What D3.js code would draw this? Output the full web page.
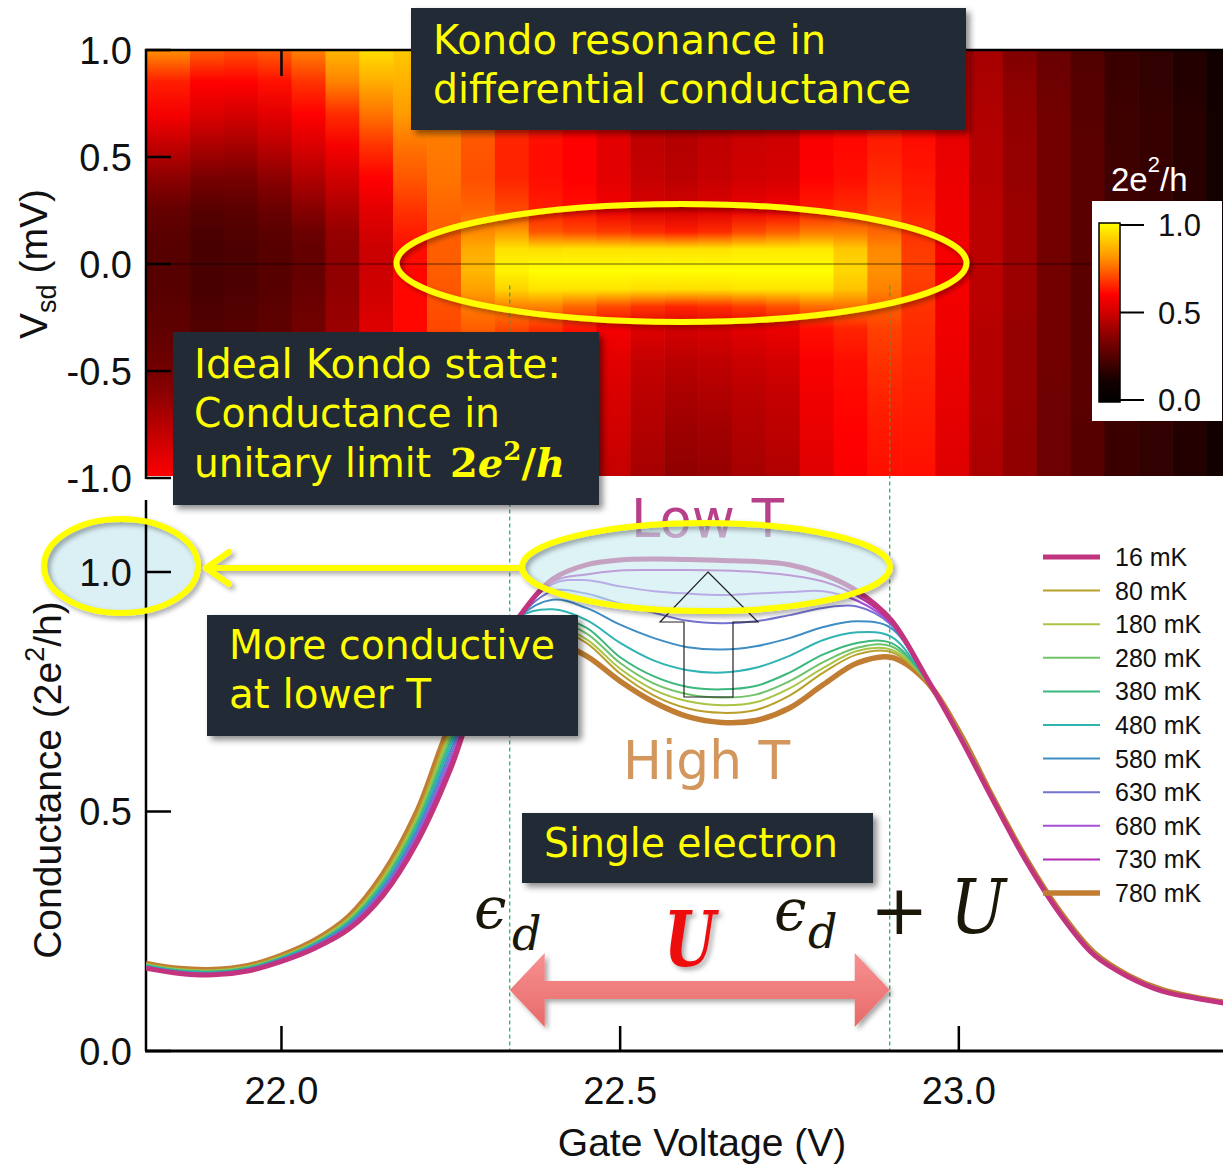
<!DOCTYPE html>
<html><head><meta charset="utf-8">
<script src="https://cdn.jsdelivr.net/npm/d3@7"></script>
<style>body{margin:0;background:#fff}svg{display:block}</style>
</head><body>
<svg id="c" width="1223" height="1165"></svg>
<script>
// ---------------- DATA ----------------
// Heatmap (top panel): dI/dV in units of 2e^2/h, columns vs gate voltage, rows vs Vsd
const heatGate = [21.84,21.89,21.94,21.99,22.04,22.09,22.14,22.19,22.24,22.29,22.34,22.39,22.44,22.49,22.54,22.59,
                  22.64,22.69,22.74,22.79,22.84,22.89,22.94,22.99,23.04,23.09,23.14,23.19,23.24,23.29,23.34,23.39];
const vsdLevels = [1.0,0.85,0.7,0.55,0.4,0.25,0.15,0.07,-0.03,-0.12,-0.2,-0.3,-0.45,-0.6,-0.8,-1.0];
const heatCols = [
 [0.80,0.64,0.58,0.47,0.37,0.29,0.27,0.26,0.26,0.26,0.27,0.28,0.31,0.37,0.48,0.60],
 [0.73,0.60,0.53,0.43,0.33,0.26,0.24,0.23,0.23,0.23,0.24,0.25,0.28,0.33,0.42,0.50],
 [0.71,0.60,0.51,0.42,0.33,0.27,0.25,0.24,0.24,0.24,0.25,0.26,0.29,0.34,0.43,0.50],
 [0.73,0.62,0.54,0.46,0.37,0.30,0.27,0.26,0.26,0.26,0.27,0.28,0.31,0.36,0.44,0.50],
 [0.78,0.67,0.60,0.52,0.44,0.36,0.31,0.29,0.29,0.30,0.31,0.32,0.35,0.38,0.44,0.50],
 [0.87,0.78,0.66,0.58,0.50,0.43,0.39,0.38,0.38,0.38,0.39,0.40,0.42,0.45,0.50,0.55],
 [0.94,0.85,0.76,0.67,0.60,0.54,0.51,0.49,0.49,0.50,0.51,0.53,0.55,0.57,0.59,0.60],
 [0.90,0.86,0.82,0.76,0.72,0.67,0.64,0.62,0.61,0.61,0.61,0.61,0.61,0.61,0.61,0.61],
 [0.85,0.82,0.79,0.77,0.76,0.74,0.73,0.73,0.73,0.72,0.71,0.70,0.69,0.68,0.66,0.64],
 [0.80,0.78,0.74,0.72,0.71,0.74,0.79,0.85,0.87,0.83,0.77,0.73,0.71,0.69,0.67,0.65],
 [0.70,0.68,0.66,0.65,0.65,0.70,0.82,0.95,0.98,0.92,0.78,0.70,0.67,0.65,0.63,0.62],
 [0.66,0.64,0.63,0.62,0.62,0.64,0.72,0.94,1.00,0.95,0.78,0.67,0.64,0.62,0.61,0.60],
 [0.62,0.61,0.60,0.60,0.60,0.62,0.70,0.95,1.00,0.95,0.74,0.63,0.60,0.58,0.57,0.56],
 [0.58,0.56,0.55,0.54,0.54,0.57,0.68,0.95,1.00,0.95,0.70,0.58,0.54,0.52,0.50,0.48],
 [0.52,0.50,0.48,0.47,0.48,0.52,0.66,0.95,1.00,0.94,0.67,0.53,0.48,0.46,0.44,0.42],
 [0.50,0.48,0.46,0.45,0.46,0.51,0.64,0.95,1.00,0.94,0.65,0.51,0.46,0.43,0.40,0.38],
 [0.50,0.48,0.47,0.47,0.48,0.53,0.66,0.95,1.00,0.94,0.66,0.52,0.47,0.44,0.41,0.39],
 [0.52,0.50,0.49,0.49,0.50,0.56,0.70,0.96,1.00,0.95,0.68,0.54,0.49,0.46,0.44,0.42],
 [0.54,0.52,0.51,0.50,0.51,0.58,0.73,0.96,1.00,0.95,0.71,0.56,0.51,0.48,0.46,0.44],
 [0.60,0.59,0.59,0.59,0.60,0.64,0.77,0.96,1.00,0.95,0.75,0.62,0.59,0.57,0.55,0.53],
 [0.62,0.61,0.61,0.61,0.62,0.66,0.77,0.90,0.93,0.89,0.76,0.65,0.62,0.61,0.60,0.59],
 [0.62,0.62,0.63,0.64,0.66,0.69,0.74,0.79,0.80,0.78,0.73,0.69,0.67,0.65,0.63,0.62],
 [0.58,0.59,0.60,0.62,0.63,0.65,0.67,0.68,0.69,0.68,0.67,0.66,0.65,0.64,0.63,0.62],
 [0.50,0.52,0.54,0.55,0.56,0.57,0.57,0.58,0.58,0.58,0.57,0.57,0.56,0.55,0.54,0.53],
 [0.42,0.43,0.44,0.45,0.45,0.46,0.46,0.46,0.46,0.46,0.46,0.45,0.45,0.45,0.44,0.43],
 [0.35,0.37,0.38,0.39,0.39,0.40,0.40,0.40,0.40,0.40,0.40,0.39,0.39,0.39,0.38,0.38],
 [0.30,0.31,0.32,0.32,0.32,0.32,0.32,0.32,0.32,0.32,0.32,0.32,0.32,0.31,0.31,0.31],
 [0.25,0.26,0.26,0.27,0.27,0.27,0.27,0.27,0.27,0.27,0.27,0.27,0.27,0.27,0.26,0.26],
 [0.20,0.20,0.21,0.21,0.21,0.21,0.21,0.21,0.21,0.21,0.21,0.21,0.21,0.21,0.20,0.20],
 [0.18,0.18,0.19,0.19,0.19,0.19,0.19,0.19,0.19,0.19,0.19,0.19,0.19,0.19,0.18,0.18],
 [0.15,0.15,0.16,0.16,0.16,0.16,0.16,0.16,0.16,0.16,0.16,0.16,0.16,0.16,0.15,0.15],
 [0.10,0.10,0.11,0.11,0.11,0.11,0.11,0.11,0.11,0.11,0.11,0.11,0.11,0.11,0.10,0.10]
];
const cmapStops  = [0, 0.12, 0.35, 0.5, 0.6, 0.8, 1.0];
const cmapColors = ['#000000','#150000','#800000','#d00000','#ff0000','#ff9000','#ffff00'];

// Conductance curves (bottom panel)
const gateGrid = [21.80,21.85,21.90,21.95,22.00,22.05,22.10,22.15,22.20,22.25,22.30,22.35,22.40,22.45,22.50,22.55,22.60,
                  22.65,22.70,22.75,22.80,22.85,22.90,22.95,23.00,23.05,23.10,23.15,23.20,23.25,23.30,23.35,23.40];
const g16  = [.173,.162,.159,.167,.187,.215,.255,.325,.435,.590,.790,.905,.985,1.015,1.025,1.027,1.026,1.024,1.022,1.015,.995,.960,.900,.785,.660,.525,.395,.285,.200,.155,.125,.110,.098];
const g80  = [.182,.171,.169,.177,.199,.230,.279,.366,.494,.676,.808,.880,.884,.852,.788,.742,.715,.706,.712,.742,.790,.828,.833,.776,.667,.530,.400,.290,.205,.158,.128,.112,.100];
const g180 = [.181,.170,.168,.176,.197,.229,.277,.361,.487,.667,.806,.890,.890,.860,.798,.754,.730,.722,.728,.757,.800,.835,.838,.777,.667,.529,.399,.289,.204,.158,.128,.112,.100];
const g280 = [.180,.169,.167,.175,.196,.227,.274,.356,.481,.658,.804,.895,.898,.872,.810,.767,.745,.738,.744,.772,.812,.842,.845,.778,.666,.529,.399,.289,.204,.157,.127,.111,.100];
const g380 = [.179,.168,.166,.174,.195,.225,.271,.351,.474,.648,.802,.900,.905,.884,.822,.782,.760,.755,.762,.790,.828,.852,.852,.779,.665,.528,.398,.288,.203,.157,.127,.111,.099];
const g480 = [.178,.167,.164,.172,.194,.224,.269,.347,.468,.639,.800,.905,.922,.900,.852,.815,.795,.790,.800,.825,.858,.874,.865,.779,.664,.528,.398,.288,.203,.157,.127,.111,.099];
const g580 = [.177,.166,.163,.171,.192,.222,.266,.342,.461,.629,.798,.905,.942,.925,.890,.862,.843,.838,.845,.862,.885,.897,.883,.780,.663,.527,.397,.287,.202,.156,.126,.111,.099];
const g630 = [.176,.165,.162,.170,.191,.220,.263,.338,.455,.619,.796,.905,.960,.955,.934,.915,.898,.893,.897,.910,.925,.928,.890,.781,.662,.527,.397,.287,.202,.156,.126,.110,.099];
const g680 = [.175,.164,.161,.169,.190,.218,.260,.334,.448,.609,.794,.905,.975,.983,.970,.960,.955,.952,.955,.958,.960,.940,.893,.782,.662,.526,.396,.286,.201,.156,.126,.110,.098];
const g730 = [.174,.163,.160,.168,.188,.217,.258,.329,.442,.600,.792,.905,.980,.995,1.003,1.004,1.004,1.003,1.000,.993,.980,.950,.895,.783,.661,.526,.396,.286,.201,.155,.125,.110,.098];
const g780 = [.183,.172,.170,.178,.200,.232,.282,.370,.500,.685,.810,.855,.855,.825,.772,.728,.698,.686,.690,.716,.765,.810,.822,.775,.668,.530,.400,.290,.205,.158,.128,.112,.100];

const seriesLabels = ['16 mK','80 mK','180 mK','280 mK','380 mK','480 mK','580 mK','630 mK','680 mK','730 mK','780 mK'];
const seriesValues = [g16,g80,g180,g280,g380,g480,g580,g630,g680,g730,g780];
const seriesColors = ['#c2347e','#b9a02a','#a9c444','#6fc46a','#3cb77e','#2fb3b3','#3f8dc4','#7373cf','#a54fd6','#b22cb0','#c17e33'];
const seriesWidths = [5,2,2,2,2,2,2,2,2,2,5.5];

const vsdTicks  = [1.0,0.5,0.0,-0.5,-1.0];
const condTicks = [0.0,0.5,1.0];
const gateTicks = [22.0,22.5,23.0];
const cbarTicks = [0.0,0.5,1.0];
const edgeGates = [22.337,22.898];   // eps_d and eps_d+U markers

// ---------------- SCALES ----------------
const xS   = d3.scaleLinear().domain([21.80,23.39]).range([146,1223]);
const yTop = d3.scaleLinear().domain([-1,1]).range([478,50]);
const yBot = d3.scaleLinear().domain([0,1]).range([1051,572]);
const col  = d3.scaleLinear().domain(cmapStops).range(cmapColors).clamp(true);
const f1 = v => v.toFixed(1);
const SANS = 'Liberation Sans, Arial, sans-serif';
const TAH = 'DejaVu Sans, Verdana, sans-serif';
const SERIF = 'DejaVu Serif, serif';

const svg = d3.select('#c');
const defs = svg.append('defs');
const flt = defs.append('filter').attr('id','sh').attr('x','-20%').attr('y','-30%').attr('width','150%').attr('height','170%');
flt.append('feDropShadow').attr('dx',4).attr('dy',4).attr('stdDeviation',3).attr('flood-color','#000').attr('flood-opacity',0.45);
const flt2 = defs.append('filter').attr('id','sh2').attr('x','-20%').attr('y','-30%').attr('width','150%').attr('height','170%');
flt2.append('feDropShadow').attr('dx',3).attr('dy',3).attr('stdDeviation',2.5).attr('flood-color','#000').attr('flood-opacity',0.35);

// ---------------- HEATMAP ----------------
defs.append('clipPath').attr('id','hclip').append('rect')
  .attr('x',146).attr('y',50).attr('width',1223-146).attr('height',476-50);
const hg = svg.append('g').attr('clip-path','url(#hclip)');
const y1 = yTop(1), y2 = yTop(-1);
heatCols.forEach((vals,i)=>{
  const gr = defs.append('linearGradient').attr('id','hg'+i)
    .attr('gradientUnits','userSpaceOnUse').attr('x1',0).attr('x2',0).attr('y1',y1).attr('y2',y2);
  vals.forEach((v,k)=>{
    gr.append('stop').attr('offset',(yTop(vsdLevels[k])-y1)/(y2-y1)).attr('stop-color',col(v));
  });
  const g = heatGate;
  const a = i===0 ? xS.domain()[0] : (g[i-1]+g[i])/2;
  const b = i===g.length-1 ? xS.domain()[1] : (g[i]+g[i+1])/2;
  hg.append('rect').attr('x',xS(a)).attr('y',y1).attr('width',xS(b)-xS(a)+0.6).attr('height',y2-y1)
    .attr('fill','url(#hg'+i+')');
});
// zero-bias line
svg.append('line').attr('x1',146).attr('x2',1223).attr('y1',yTop(0)).attr('y2',yTop(0))
  .attr('stroke','#000').attr('stroke-opacity',0.6).attr('stroke-width',1);
// top axes
svg.append('line').attr('x1',145).attr('x2',1223).attr('y1',50).attr('y2',50).attr('stroke','#000').attr('stroke-width',2.5);
svg.append('line').attr('x1',146).attr('x2',146).attr('y1',49).attr('y2',479).attr('stroke','#000').attr('stroke-width',2.5);
vsdTicks.forEach(v=>{
  svg.append('line').attr('x1',146).attr('x2',171).attr('y1',yTop(v)).attr('y2',yTop(v)).attr('stroke','#000').attr('stroke-width',2.5);
  svg.append('text').attr('x',132).attr('y',yTop(v)).attr('dy','0.36em').attr('text-anchor','end')
    .attr('font-family',SANS).attr('font-size',38).attr('fill','#111').text(f1(v));
});
gateTicks.forEach(v=>{
  svg.append('line').attr('x1',xS(v)).attr('x2',xS(v)).attr('y1',50).attr('y2',76).attr('stroke','#000').attr('stroke-width',2.5);
});
// Vsd label
const vl = svg.append('text').attr('transform','translate(47,264) rotate(-90)').attr('text-anchor','middle')
  .attr('font-family',SANS).attr('font-size',39).attr('fill','#111');
vl.append('tspan').text('V');
vl.append('tspan').attr('font-size',27).attr('dy',9).text('sd');
vl.append('tspan').attr('dy',-9).text(' (mV)');

// colorbar
svg.append('rect').attr('x',1092).attr('y',201).attr('width',130).attr('height',220).attr('fill','#fff');
const cg = defs.append('linearGradient').attr('id','cbar').attr('x1',0).attr('x2',0).attr('y1',1).attr('y2',0);
cmapStops.forEach((s,i)=>cg.append('stop').attr('offset',s).attr('stop-color',cmapColors[i]));
const cbY = d3.scaleLinear().domain([0,1]).range([400,225]);
svg.append('rect').attr('x',1099).attr('y',cbY(1)-2).attr('width',21).attr('height',cbY(0)-cbY(1)+4)
  .attr('fill','url(#cbar)').attr('stroke','#000').attr('stroke-width',1.5);
cbarTicks.forEach(v=>{
  svg.append('line').attr('x1',1120).attr('x2',1144).attr('y1',cbY(v)).attr('y2',cbY(v)).attr('stroke','#000').attr('stroke-width',2);
  svg.append('text').attr('x',1158).attr('y',cbY(v)).attr('dy','0.36em').attr('font-family',SANS).attr('font-size',31)
    .attr('fill','#111').text(f1(v));
});
const ct = svg.append('text').attr('x',1111).attr('y',191).attr('font-family',SANS).attr('font-size',33).attr('fill','#fff');
ct.append('tspan').text('2e');
ct.append('tspan').attr('font-size',22).attr('dy',-19).text('2');
ct.append('tspan').attr('dy',19).text('/h');

// ---------------- BOTTOM PANEL ----------------
// ellipse fill around the 1.0 tick label (behind axis)
svg.append('ellipse').attr('cx',121).attr('cy',566).attr('rx',77).attr('ry',47).attr('fill','#daf0f4');
// dashed lines
edgeGates.forEach(v=>{
  svg.append('line').attr('x1',xS(v)).attr('x2',xS(v)).attr('y1',yTop(-0.1)).attr('y2',yBot(0))
    .attr('stroke','#1fa862').attr('stroke-width',1.2).attr('stroke-dasharray','4,3');
});
// axes
svg.append('line').attr('x1',145).attr('x2',1223).attr('y1',yBot(0)).attr('y2',yBot(0)).attr('stroke','#000').attr('stroke-width',3);
svg.append('line').attr('x1',146).attr('x2',146).attr('y1',500).attr('y2',yBot(0)).attr('stroke','#000').attr('stroke-width',2.5);
condTicks.forEach(v=>{
  svg.append('line').attr('x1',146).attr('x2',171).attr('y1',yBot(v)).attr('y2',yBot(v)).attr('stroke','#000').attr('stroke-width',2.5);
  svg.append('text').attr('x',132).attr('y',yBot(v)).attr('dy','0.36em').attr('text-anchor','end')
    .attr('font-family',SANS).attr('font-size',38).attr('fill','#111').text(f1(v));
});
gateTicks.forEach(v=>{
  svg.append('line').attr('x1',xS(v)).attr('x2',xS(v)).attr('y1',yBot(0)).attr('y2',yBot(0)-25).attr('stroke','#000').attr('stroke-width',2.5);
  svg.append('text').attr('x',xS(v)).attr('y',1104).attr('text-anchor','middle')
    .attr('font-family',SANS).attr('font-size',38).attr('fill','#111').text(f1(v));
});
svg.append('text').attr('x',702).attr('y',1156).attr('text-anchor','middle').attr('font-family',SANS)
  .attr('font-size',39).attr('fill','#111').text('Gate Voltage (V)');
const cl = svg.append('text').attr('transform','translate(61,780) rotate(-90)').attr('text-anchor','middle')
  .attr('font-family',SANS).attr('font-size',39).attr('fill','#111');
cl.append('tspan').text('Conductance (2e');
cl.append('tspan').attr('font-size',27).attr('dy',-17).text('2');
cl.append('tspan').attr('dy',17).text('/h)');

// curves
defs.append('clipPath').attr('id','bclip').append('rect').attr('x',146).attr('y',480).attr('width',1077).attr('height',572);
const cgp = svg.append('g').attr('clip-path','url(#bclip)');
const line = d3.line().x(d=>xS(d[0])).y(d=>yBot(d[1])).curve(d3.curveCatmullRom.alpha(0.5));
const order = [10,1,2,3,4,5,6,7,8,9,0];
order.forEach(i=>{
  cgp.append('path').attr('d',line(gateGrid.map((g,k)=>[g,seriesValues[i][k]])))
    .attr('fill','none').attr('stroke',seriesColors[i]).attr('stroke-width',seriesWidths[i])
    .attr('stroke-linejoin','round');
});

// legend
seriesLabels.forEach((s,i)=>{
  const y = 557 + i*33.6;
  svg.append('line').attr('x1',1043).attr('x2',1100).attr('y1',y).attr('y2',y)
    .attr('stroke',seriesColors[i]).attr('stroke-width',seriesWidths[i]);
  svg.append('text').attr('x',1115).attr('y',y).attr('dy','0.36em').attr('font-family',SANS)
    .attr('font-size',25).attr('fill','#111').text(s);
});

// Low T / High T
svg.append('text').attr('x',631).attr('y',537).attr('font-family',TAH).attr('font-size',53)
  .attr('fill','#b8408a').attr('textLength',153).attr('lengthAdjust','spacingAndGlyphs').text('Low T');
svg.append('text').attr('x',623).attr('y',779).attr('font-family',TAH).attr('font-size',53)
  .attr('fill','#d3975e').attr('textLength',167).attr('lengthAdjust','spacingAndGlyphs').text('High T');

// translucent ellipse on the plateau
svg.append('ellipse').attr('cx',706).attr('cy',567).attr('rx',184).attr('ry',44)
  .attr('fill','#c6ebf0').attr('fill-opacity',0.6);

// hollow up arrow
svg.append('polygon').attr('points','708,572 758,622 733,622 733,697 684,697 684,622 660,622')
  .attr('fill','none').attr('stroke','#222').attr('stroke-width',1.2);

// yellow ellipses + arrow
const yel = svg.append('g').attr('filter','url(#sh2)');
yel.append('ellipse').attr('cx',706).attr('cy',567).attr('rx',184).attr('ry',44)
  .attr('fill','none').attr('stroke','#ffff00').attr('stroke-width',6);
yel.append('ellipse').attr('cx',121).attr('cy',566).attr('rx',77).attr('ry',47)
  .attr('fill','none').attr('stroke','#ffff00').attr('stroke-width',6);
yel.append('line').attr('x1',522).attr('x2',208).attr('y1',568).attr('y2',568).attr('stroke','#ffff00').attr('stroke-width',6);
yel.append('polyline').attr('points','229,552 206,568 229,584').attr('fill','none').attr('stroke','#ffff00')
  .attr('stroke-width',6).attr('stroke-linecap','round').attr('stroke-linejoin','round');
yel.append('ellipse').attr('cx',681.5).attr('cy',263).attr('rx',285).attr('ry',59)
  .attr('fill','none').attr('stroke','#ffff00').attr('stroke-width',6);

// text boxes
const boxes = [
 {x:411,y:8,w:555,h:122, lines:[{t:'Kondo resonance in',x:433,y:54,len:393},{t:'differential conductance',x:433,y:103,len:478}]},
 {x:173,y:332,w:426,h:173, lines:[{t:'Ideal Kondo state:',x:194,y:378,len:367},{t:'Conductance in',x:194,y:427,len:306},{t:'unitary limit',x:194,y:477,len:237}]},
 {x:207,y:615,w:371,h:121, lines:[{t:'More conductive',x:229,y:659,len:326},{t:'at lower T',x:229,y:708,len:202}]},
 {x:522,y:813,w:351,h:70, lines:[{t:'Single electron',x:544,y:857,len:294}]}
];
boxes.forEach(b=>{
  svg.append('rect').attr('x',b.x).attr('y',b.y).attr('width',b.w).attr('height',b.h).attr('fill','#232935').attr('filter','url(#sh)');
  b.lines.forEach(l=>{
    svg.append('text').attr('x',l.x).attr('y',l.y).attr('font-family',TAH).attr('font-size',40).attr('fill','#ffff00')
      .attr('textLength',l.len).attr('lengthAdjust','spacingAndGlyphs').text(l.t);
  });
});
// 2e^2/h in math bold italic
const mt = svg.append('text').attr('x',450).attr('y',477).attr('font-family',SERIF).attr('font-size',40)
  .attr('font-weight','bold').attr('fill','#ffff00');
mt.append('tspan').text('2');
mt.append('tspan').attr('font-style','italic').text('e');
mt.append('tspan').attr('font-size',26).attr('dy',-17).text('2');
mt.append('tspan').attr('dy',17).text('/');
mt.append('tspan').attr('font-style','italic').text('h');

// red double arrow
const aL = xS(edgeGates[0]), aR = xS(edgeGates[1]), ay = 990, hl = 35, hh = 37, sh = 9;
const rg = defs.append('linearGradient').attr('id','rg').attr('x1',0).attr('x2',0).attr('y1',0).attr('y2',1);
rg.append('stop').attr('offset',0).attr('stop-color','#f79090');
rg.append('stop').attr('offset',1).attr('stop-color','#e86a6a');
svg.append('polygon').attr('points',[[aL,ay],[aL+hl,ay-hh],[aL+hl,ay-sh],[aR-hl,ay-sh],[aR-hl,ay-hh],[aR,ay],
  [aR-hl,ay+hh],[aR-hl,ay+sh],[aL+hl,ay+sh],[aL+hl,ay+hh]].map(p=>p.join(',')).join(' '))
  .attr('fill','url(#rg)').attr('filter','url(#sh2)');

// math labels
const M = '#1a1608';
svg.append('text').attr('x',474).attr('y',928).attr('font-family',SERIF).attr('font-style','italic').attr('font-size',58).attr('fill',M).text('\u03F5');
svg.append('text').attr('x',512).attr('y',950).attr('font-family',SERIF).attr('font-style','italic').attr('font-size',46).attr('fill',M).text('d');
svg.append('text').attr('x',774).attr('y',930).attr('font-family',SERIF).attr('font-style','italic').attr('font-size',58).attr('fill',M).text('\u03F5');
svg.append('text').attr('x',808).attr('y',948).attr('font-family',SERIF).attr('font-style','italic').attr('font-size',46).attr('fill',M).text('d');
svg.append('text').attr('x',870).attr('y',934).attr('font-family',SERIF).attr('font-size',70).attr('fill',M).text('+');
svg.append('text').attr('x',950).attr('y',933).attr('font-family',SERIF).attr('font-style','italic').attr('font-size',75)
  .attr('fill',M).attr('textLength',56).attr('lengthAdjust','spacingAndGlyphs').text('U');
svg.append('text').attr('x',664).attr('y',966).attr('font-family',SERIF).attr('font-style','italic').attr('font-weight','bold')
  .attr('font-size',76).attr('fill','#ee1111').attr('filter','url(#sh2)').attr('textLength',52).attr('lengthAdjust','spacingAndGlyphs').text('U');
</script>
</body></html>
